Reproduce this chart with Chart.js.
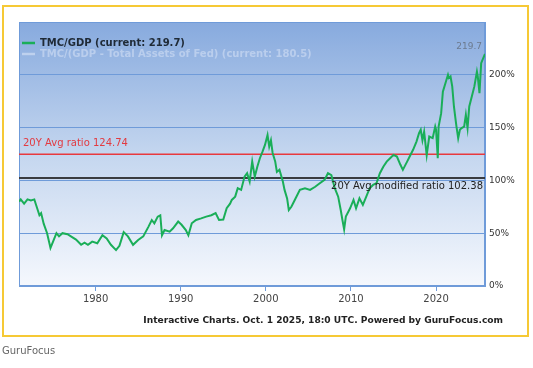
<!DOCTYPE html>
<html>
<head>
<meta charset="utf-8">
<script src="https://cdn.jsdelivr.net/npm/chart.js@4"></script>
<style>
  body { margin: 0; background: #fff; width: 533px; height: 368px; overflow: hidden; position: relative; font-family: "DejaVu Sans", sans-serif; }
  #frame { position: absolute; left: 2px; top: 5px; width: 527px; height: 332px; border: 2px solid #f6c935; box-sizing: border-box; }
  #chart { position: absolute; left: 0; top: 0; }
  #footer { position: absolute; right: 30px; top: 315px; font: bold 9.1px "DejaVu Sans", sans-serif; color: #222; }
  #source { position: absolute; left: 2px; top: 345px; font: 10px "DejaVu Sans", sans-serif; color: #666; }
</style>
</head>
<body>
<div id="frame"></div>
<canvas id="chart" width="533" height="368"></canvas>
<div id="footer">Interactive Charts. Oct. 1 2025, 18:0 UTC. Powered by GuruFocus.com</div>
<div id="source">GuruFocus</div>
<script>
// TMC/GDP ratio (year, percent)
const years = [
  1971.0, 1971.2, 1971.6, 1972.0, 1972.4, 1972.8, 1973.0, 1973.4, 1973.6, 1973.9,
  1974.3, 1974.7, 1975.0, 1975.4, 1975.7, 1976.1, 1976.7, 1977.1, 1977.7, 1978.3,
  1978.7, 1979.1, 1979.6, 1980.2, 1980.8, 1981.3, 1981.8, 1982.4, 1982.8, 1983.3,
  1983.8, 1984.4, 1985.0, 1985.6, 1986.2, 1986.6, 1986.9, 1987.3, 1987.6, 1987.8,
  1988.1, 1988.7, 1989.1, 1989.7, 1990.1, 1990.6, 1990.9, 1991.3, 1991.8, 1992.4,
  1993.0, 1993.6, 1994.1, 1994.5, 1995.0, 1995.4, 1995.8, 1996.0, 1996.4, 1996.7,
  1997.1, 1997.5, 1997.8, 1998.1, 1998.4, 1998.7, 1999.0, 1999.3, 1999.6, 1999.9,
  2000.2, 2000.4, 2000.6, 2000.8, 2001.1, 2001.3, 2001.6, 2002.0, 2002.2, 2002.5,
  2002.7, 2003.0, 2003.4, 2004.0, 2004.6, 2005.2, 2005.8, 2006.3, 2006.9, 2007.3,
  2007.7, 2008.1, 2008.5, 2008.8, 2009.0, 2009.2, 2009.4, 2009.9, 2010.3, 2010.6,
  2011.0, 2011.4, 2011.8, 2012.2, 2012.6, 2013.0, 2013.4, 2013.8, 2014.2, 2014.6,
  2015.0, 2015.4, 2015.8, 2016.1, 2016.4, 2016.6, 2016.9, 2017.3, 2017.7, 2018.0,
  2018.2, 2018.4, 2018.6, 2018.9, 2019.2, 2019.6, 2019.9, 2020.0, 2020.2, 2020.3,
  2020.6, 2020.8, 2021.1, 2021.4, 2021.5, 2021.7, 2021.9, 2022.1, 2022.3, 2022.4,
  2022.6, 2022.8, 2023.0, 2023.3, 2023.5, 2023.7, 2023.9, 2024.2, 2024.5, 2024.8,
  2024.9, 2025.1, 2025.3, 2025.75
];
const tmcGdp = [
  80, 82, 78, 82, 81, 82, 77, 67, 69, 59,
  50, 36, 42, 50, 47, 50, 49, 47, 44, 39,
  41, 39, 42, 40.5, 48, 45, 39, 34, 38, 51,
  47, 39, 43.6, 47, 56, 62.5, 59.4, 65.7, 67, 48,
  53, 51.5, 54.7, 61, 58, 53, 48, 59.4, 62.5, 64,
  65.7, 67, 69, 62.5, 63, 73.6, 78, 81.5, 84.6, 92.6,
  91, 103.6, 106.8, 99, 117.8, 103.6, 113, 121, 127, 133.6,
  143, 132, 138, 126, 118, 108, 110, 99, 91, 83,
  72, 75, 81.5, 91, 92.6, 91, 94, 97, 100.5, 106.8,
  105, 92.6, 84.6, 72, 62.5, 53.7, 65.7, 73.6, 81.5, 73.6,
  83, 76.8, 84.6, 92.6, 95.7, 97.3, 106.8, 113, 117.8, 121,
  124.2, 122.6, 115, 110, 114.7, 117.8, 122.6, 129, 136.8, 144.7,
  148, 138, 146, 124, 141.5, 140, 151, 148, 121, 151,
  163.7, 184, 192, 200, 197, 198.4, 189, 170, 157, 151,
  140, 148, 149.5, 151, 162, 149.5, 170, 179.4, 189, 203,
  198.4, 182.7, 211, 219.7
];
const xTickYears = [1980, 1990, 2000, 2010, 2020];
const yTickPcts = [0, 50, 100, 150, 200, 250];
const avgRatio = 124.74;
const avgModified = 102.38;
const xMin = 1971, xMax = 2025.75;

const gridBlue = '#6f9bd9';
const font = '"DejaVu Sans", sans-serif';

const decor = {
  id: 'decor',
  beforeDraw(chart) {
    const { ctx, chartArea: a } = chart;
    const g = ctx.createLinearGradient(0, a.top, 0, a.bottom);
    g.addColorStop(0, '#87aade');
    g.addColorStop(0.5, '#c4d6ef');
    g.addColorStop(1, '#f5f8fd');
    ctx.save();
    ctx.fillStyle = g;
    ctx.fillRect(a.left, a.top, a.right - a.left, a.bottom - a.top);
    ctx.restore();
  },
  beforeDatasetsDraw(chart) {
    const { ctx, chartArea: a } = chart;
    ctx.save();
    ctx.strokeStyle = gridBlue;
    ctx.lineWidth = 1;
    ctx.strokeRect(a.left + 0.5, a.top + 0.5, a.right - a.left - 1, a.bottom - a.top - 1);
    ctx.restore();
  },
  afterDatasetsDraw(chart) {
    const { ctx, chartArea: a, scales } = chart;
    const y = scales.y;
    ctx.save();
    // average labels
    ctx.font = '10px ' + font;
    ctx.fillStyle = '#e23a40';
    ctx.textAlign = 'left';
    ctx.textBaseline = 'alphabetic';
    ctx.fillText('20Y Avg ratio ' + avgRatio, a.left + 4, y.getPixelForValue(avgRatio) - 8);
    ctx.fillStyle = '#222';
    ctx.textAlign = 'right';
    ctx.textBaseline = 'top';
    ctx.fillText('20Y Avg modified ratio ' + avgModified, a.right - 2, y.getPixelForValue(avgModified) + 4);
    // legend
    ctx.textAlign = 'left';
    ctx.textBaseline = 'middle';
    ctx.lineWidth = 2.5;
    ctx.strokeStyle = '#1aae58';
    ctx.beginPath(); ctx.moveTo(a.left + 3, a.top + 21); ctx.lineTo(a.left + 16, a.top + 21); ctx.stroke();
    ctx.font = 'bold 10px ' + font;
    ctx.fillStyle = '#1f2a36';
    ctx.fillText('TMC/GDP (current: 219.7)', a.left + 21, a.top + 21);
    ctx.strokeStyle = 'rgba(230,238,250,0.5)';
    ctx.beginPath(); ctx.moveTo(a.left + 3, a.top + 32); ctx.lineTo(a.left + 16, a.top + 32); ctx.stroke();
    ctx.fillStyle = 'rgba(230,238,250,0.45)';
    ctx.fillText('TMC/(GDP - Total Assets of Fed) (current: 180.5)', a.left + 21, a.top + 32);
    // current value
    ctx.font = '9px ' + font;
    ctx.fillStyle = '#6c7a8e';
    ctx.textAlign = 'right';
    ctx.fillText('219.7', a.right - 3, a.top + 25);
    ctx.restore();
  }
};

new Chart(document.getElementById('chart'), {
  type: 'line',
  data: {
    datasets: [
      {
        label: 'TMC/GDP',
        data: years.map((x, i) => ({ x: x, y: tmcGdp[i] })),
        borderColor: '#1aae58',
        borderWidth: 2,
        pointRadius: 0,
        tension: 0,
        order: 0
      },
      {
        label: '20Y Avg ratio',
        data: [{ x: xMin, y: avgRatio }, { x: xMax, y: avgRatio }],
        borderColor: '#e8383e',
        borderWidth: 1.5,
        pointRadius: 0,
        order: 1
      },
      {
        label: '20Y Avg modified ratio',
        data: [{ x: xMin, y: avgModified }, { x: xMax, y: avgModified }],
        borderColor: '#3a3c40',
        borderWidth: 2,
        pointRadius: 0,
        order: 1
      }
    ]
  },
  options: {
    responsive: false,
    animation: false,
    layout: { padding: { left: 19, top: 22, right: 0, bottom: 52 } },
    plugins: { legend: { display: false }, tooltip: { enabled: false } },
    scales: {
      x: {
        type: 'linear',
        min: xMin,
        max: xMax,
        afterBuildTicks: s => { s.ticks = xTickYears.map(v => ({ value: v })); },
        afterFit: s => { s.height = 30; },
        grid: { drawOnChartArea: false, color: gridBlue, tickLength: 5 },
        border: { color: gridBlue },
        ticks: { color: '#444', font: { family: font, size: 10 }, padding: 2, maxRotation: 0, callback: v => String(v) }
      },
      y: {
        position: 'right',
        min: 0,
        max: 250,
        afterBuildTicks: s => { s.ticks = yTickPcts.map(v => ({ value: v })); },
        afterFit: s => { s.width = 48; },
        grid: { color: gridBlue, drawTicks: false },
        border: { color: gridBlue },
        ticks: { color: '#333', font: { family: font, size: 9 }, padding: 4, callback: v => v === 250 ? '' : v + '%' }
      }
    }
  },
  plugins: [decor]
});
</script>
</body>
</html>
